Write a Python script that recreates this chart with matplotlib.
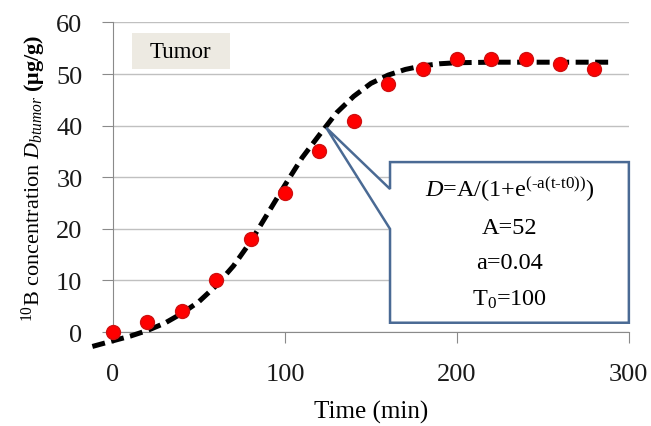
import matplotlib
matplotlib.use("Agg")
import matplotlib.pyplot as plt
from matplotlib.patches import Polygon, Rectangle

plt.rcParams['font.family'] = ['Liberation Serif', 'DejaVu Serif']
plt.rcParams['mathtext.fontset'] = 'custom'
plt.rcParams['mathtext.rm'] = 'Liberation Serif'
plt.rcParams['mathtext.it'] = 'Liberation Serif:italic'
plt.rcParams['mathtext.bf'] = 'Liberation Serif:bold'

# measured points
time_min = [0, 20, 40, 60, 80, 100, 120, 140, 160, 180, 200, 220, 240, 260, 280]
conc = [0, 2, 4, 10, 18, 27, 35, 41, 48, 51, 53, 53, 53, 52, 51]

# fitted curve
fit_t = [-12, 0, 10, 20, 30, 40, 50, 60, 70, 80, 90, 100, 110, 120, 130,
         140, 150, 160, 170, 180, 190, 200, 220, 240, 260, 290]
fit_y = [-2.8, -1.7, -0.8, 0.3, 1.7, 3.6, 5.9, 9.0, 12.8, 17.5, 23.0, 28.5,
         33.8, 38.2, 42.5, 45.7, 48.2, 49.8, 50.9, 51.6, 52.0, 52.2, 52.3,
         52.3, 52.3, 52.3]

fit_lines = [r"$\mathit{D}$=A/(1+e$^{\text{(-a(t-t0))}}$)",
             "A=52", "a=0.04", r"T$_0$=100"]

fig = plt.figure(figsize=(6.51, 4.27), dpi=100)
ax = fig.add_axes([0.1736, 0.2201, 0.7924, 0.7249])

ax.set_xlim(0, 300)
ax.set_ylim(0, 60)
ax.set_xticks([0, 100, 200, 300])
ax.set_yticks([0, 10, 20, 30, 40, 50, 60])
ax.grid(axis='y', color='#c0c0c0', linewidth=1)
ax.set_axisbelow(True)
for s in ['top', 'right']:
    ax.spines[s].set_visible(False)
for s in ['left', 'bottom']:
    ax.spines[s].set_color('#8a8a8a')
ax.tick_params(colors='#8a8a8a', length=8, labelsize=19, labelcolor='#1a1a1a')
ax.tick_params(axis='y', pad=14)
ax.tick_params(axis='x', pad=14)

ax.plot(fit_t, fit_y, color='black', linewidth=3.6, dashes=(2.6, 1.3),
        clip_on=False, zorder=3)
ax.plot(time_min, conc, 'o', color='#ff0000', markeredgecolor='#d01010',
        markersize=10, clip_on=False, zorder=4)

ax.set_xlabel('Time (min)', fontsize=18, labelpad=11)
ax.set_ylabel(r"$^{10}$B concentration $\mathit{D}_{\mathit{btumor}}$ $\mathbf{(\mu g/g)}$",
              fontsize=16, labelpad=6)

# Tumor label
ax.add_patch(Rectangle((0.036, 0.849), 0.19, 0.118, transform=ax.transAxes,
                       facecolor='#edeae2', edgecolor='none', zorder=2))
ax.text(0.131, 0.906, 'Tumor', transform=ax.transAxes, fontsize=16.5,
        ha='center', va='center', zorder=3)

# callout with the fit
tip = ax.transData.transform((124, 39.6))
tip = ax.transAxes.inverted().transform(tip)
x0, x1 = 0.537, 1.0
y0, y1 = 0.03, 0.549
n1, n2 = 0.462, 0.333
callout = Polygon([(x0, y1), (x1, y1), (x1, y0), (x0, y0), (x0, n2),
                   tuple(tip), (x0, n1)], closed=True,
                  transform=ax.transAxes, facecolor='white',
                  edgecolor='#4a6a94', linewidth=1.8, clip_on=False, zorder=5)
ax.add_patch(callout)
ys = [0.462, 0.339, 0.226, 0.107]
for line, yy in zip(fit_lines, ys):
    ax.text((x0 + x1) / 2, yy, line, transform=ax.transAxes, fontsize=17.5,
            ha='center', va='center', zorder=6)

fig.savefig('out.png', dpi=100)
